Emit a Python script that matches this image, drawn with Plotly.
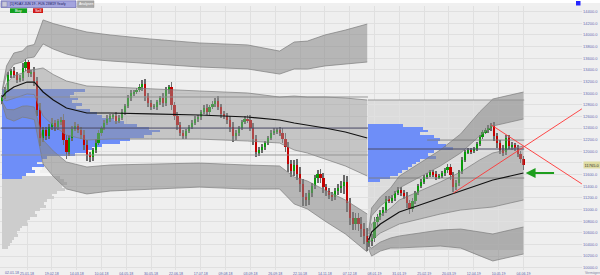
import plotly.graph_objects as go

# ---------------- data ----------------
FIRST_OPEN = 12871

CLOSE_2018 = [12934, 13054, 13312, 13380, 13312, 13226, 13260, 13432, 13535, 13346,
              13363, 13209, 12710, 12229, 12366, 12263, 12418, 12487, 12418, 12521,
              12538, 12194, 11988, 12229, 12384, 12435, 12366, 12280, 12108, 11937,
              11902, 12022, 12143, 12315, 12401, 12487, 12556, 12607, 12607, 12521,
              12573, 12676, 12779, 12917, 13002, 13020, 13054, 13105, 13157, 12951,
              12830, 12762, 12762, 12848, 12917, 12830, 13054, 13105, 12796, 12607,
              12452, 12315, 12263, 12349, 12418, 12487, 12556, 12590, 12676, 12745,
              12676, 12762, 12813, 12865, 12762, 12642, 12607, 12538, 12418, 12263,
              12315, 12401, 12504, 12556, 12538, 12401, 12212, 11988, 12022, 12074,
              12143, 12229, 12315, 12349, 12366, 12315, 12212, 12074, 11782, 11662,
              11765, 11610, 11438, 11214, 11163, 11283, 11404, 11541, 11610, 11541,
              11386, 11318, 11249, 11214, 11318, 11369, 11404, 11472, 11111, 10854,
              10750, 10854, 10750, 10664, 10544, 10441]
CLOSE_2019 = [10458, 10510, 10785, 10871, 10940, 10991, 11180, 11163, 11197, 11283,
              11335, 11283, 11232, 11111, 11008, 11146, 11283, 11404, 11472, 11558,
              11593, 11644, 11610, 11558, 11576, 11627, 11679, 11730, 11593, 11386,
              11455, 11644, 11851, 11988, 12022, 12005, 12040, 12126, 12246, 12332,
              12366, 12401, 12435, 12263, 12143, 12022, 11988, 12229, 12091, 12108,
              12057, 11954, 11868, 11765]

WICK_UP_2018 = [40, 60, 55, 30, 70, 45, 50, 80, 60, 40,
                35, 90, 70, 120, 50, 60, 45, 80, 55, 40,
                60, 100, 90, 50, 45, 70, 35, 60, 80, 90,
                50, 40, 65, 55, 30, 45, 60, 40, 35, 70,
                50, 45, 40, 55, 60, 35, 40, 50, 70, 90,
                60, 45, 55, 40, 35, 80, 50, 40, 90, 60,
                70, 55, 45, 40, 35, 50, 45, 40, 35, 50,
                60, 40, 45, 55, 80, 60, 50, 45, 70, 90,
                55, 40, 35, 45, 60, 80, 90, 70, 50, 45,
                40, 35, 50, 45, 40, 60, 80, 100, 90, 70,
                80, 110, 120, 90, 70, 60, 55, 50, 70, 90,
                80, 60, 55, 50, 45, 70, 90, 120, 110, 90,
                100, 80, 90, 120, 110, 130]
WICK_DN_2018 = [50, 40, 35, 60, 45, 55, 40, 50, 45, 70,
                60, 80, 110, 130, 70, 60, 50, 45, 60, 55,
                70, 90, 120, 60, 50, 40, 55, 70, 90, 110,
                80, 60, 50, 40, 45, 35, 40, 50, 55, 45,
                40, 35, 50, 40, 45, 55, 40, 35, 60, 80,
                70, 55, 40, 45, 50, 60, 45, 70, 80, 75,
                90, 60, 50, 45, 40, 35, 40, 45, 50, 40,
                55, 45, 40, 50, 60, 70, 55, 60, 80, 100,
                60, 45, 40, 35, 50, 60, 100, 90, 60, 50,
                45, 40, 35, 40, 45, 50, 70, 90, 130, 100,
                90, 110, 140, 150, 100, 80, 70, 60, 80, 90,
                100, 80, 70, 60, 55, 70, 80, 140, 150, 120,
                110, 100, 120, 130, 140, 150]
WICK_UP_2019 = [60, 70, 80, 55, 50, 45, 60, 50, 45, 40,
                50, 55, 60, 70, 50, 45, 40, 35, 45, 40,
                35, 30, 40, 45, 35, 40, 30, 45, 55, 60,
                50, 40, 45, 35, 40, 35, 30, 40, 35, 30,
                35, 60, 50, 70, 60, 55, 80, 50, 45, 55,
                40, 50, 60, 45]
WICK_DN_2019 = [90, 80, 70, 60, 55, 50, 45, 55, 50, 45,
                40, 50, 60, 80, 90, 55, 45, 40, 35, 40,
                35, 40, 45, 50, 35, 40, 45, 60, 80, 90,
                55, 45, 40, 35, 40, 45, 35, 30, 40, 35,
                30, 45, 60, 80, 90, 70, 60, 55, 50, 60,
                55, 60, 70, 80]

# trading-day index of each 2-day candle (0 = 02.01.18, 251 = 02.01.19)
DAYS_2018 = list(range(0, 251, 2))
DAYS_2019 = list(range(251, 358, 2))

# yearly VWAP and standard deviation
VWAP18_DAYS = [0, 3, 8, 14, 17, 22, 28, 35, 44, 58, 74, 101, 135, 168, 190, 200, 209, 221, 235, 250]
VWAP18 = [12934, 13020, 13105, 13157, 13191, 13191, 13020, 12882, 12745, 12659,
          12659, 12642, 12624, 12590, 12538, 12487, 12452, 12401, 12332, 12229]
SIGMA18 = [40, 150, 195, 190, 205, 215, 413, 438, 464, 464,
           447, 430, 413, 413, 395, 464, 481, 533, 584, 653]
VWAP19_DAYS = [251, 253, 259, 266, 272, 286, 300, 314, 327, 336, 348, 357]
VWAP19 = [10475, 10613, 10750, 10854, 10957, 11077, 11197, 11318, 11438, 11507, 11576, 11627]
SIGMA19 = [52, 138, 155, 172, 206, 241, 275, 327, 413, 464, 464, 464]

# volume profiles (price bin -> volume)
PROFILE18_PRICE = list(range(13050, 11500, -50))
PROFILE18_VOL = [83, 72, 68, 76, 70, 80, 74, 88, 95, 100, 112, 122, 135, 147, 158, 150,
                 142, 128, 118, 100, 90, 84, 73, 45, 40, 35, 42, 30, 33, 24, 20]
PROFILE19_PRICE = list(range(12450, 11450, -50))
PROFILE19_VOL = [35, 55, 60, 52, 66, 72, 70, 78, 85, 66, 60, 68, 52, 48, 44, 40, 34, 30, 22, 12]
GRAY_PRICE = list(range(11900, 10300, -50))
GRAY_VOL = [30, 33, 28, 35, 40, 38, 50, 58, 62, 65, 60, 63, 55, 50, 52, 45, 42, 44, 38, 33,
            35, 28, 25, 26, 20, 18, 15, 16, 12, 10, 8, 6]
VOL_TO_DAYS = 1 / 1.46

# value areas / levels
VA18 = [11937, 12934]
POC18 = 12400
BOX19 = [10303, 12882]
POC19 = 12040
LEVELS19 = [12194, 11541]
LEVEL19_START = [291, 251]

# trend lines
TREND_A_DAYS = [335, 397]
TREND_A_PRICE = [12452, 11440]
TREND_B_DAYS = [309, 397]
TREND_B_PRICE = [11283, 12730]
ARROW_TAIL_DAY = 379

TICK_DAYS = [17, 34, 51, 68, 85, 102, 119, 136, 153, 170, 187, 204, 221, 238, 255,
             272, 289, 306, 323, 340, 357]
TICK_LABELS = ["25.01.18", "19.02.18", "14.03.18", "10.04.18", "04.05.18", "30.05.18",
               "22.06.18", "17.07.18", "09.08.18", "03.09.18", "26.09.18", "22.10.18",
               "14.11.18", "07.12.18", "08.01.19", "31.01.19", "25.02.19", "20.03.19",
               "12.04.19", "10.05.19", "04.06.19"]
FIRST_LABEL = "02.01.18"
PRICE_TICKS = list(range(10000, 14401, 200))
TITLE = "[1] FDAX JUN 19 - FUS 23M19 Yearly"

# ---------------- layout helpers ----------------
W, H = 600, 275
PL, PR, PT, PB = 0, 582, 6, 270
XR = [-1.5, 397.1]
YR = [9960, 14498]
FONT = "Liberation Sans"


def px(x):
    return (x - PL) / (PR - PL)


def py(y):
    return (PB - y) / (PB - PT)


fig = go.Figure()

# ---------------- bands ----------------
OUTER = "rgba(135,135,135,0.55)"
INNER = "rgba(150,150,150,0.48)"
EDGE = "#7c7c7c"


def add_bands(days, vw, sg):
    def lvl(k):
        return [v + k * s for v, s in zip(vw, sg)]
    for hi, lo, col in [(3, 2, OUTER), (1, -1, INNER), (-2, -3, OUTER)]:
        up, dn = lvl(hi), lvl(lo)
        fig.add_trace(go.Scatter(x=days + days[::-1], y=up + dn[::-1], fill="toself",
                                 fillcolor=col, line=dict(width=0), mode="lines",
                                 hoverinfo="skip"))
    for k in [3, 2, 1, -1, -2, -3]:
        fig.add_trace(go.Scatter(x=days, y=lvl(k), mode="lines",
                                 line=dict(color=EDGE, width=0.7), hoverinfo="skip"))


add_bands(VWAP18_DAYS, VWAP18, SIGMA18)
add_bands(VWAP19_DAYS, VWAP19, SIGMA19)

# ---------------- volume profiles ----------------
fig.add_trace(go.Bar(orientation="h", y=GRAY_PRICE, x=[v * VOL_TO_DAYS for v in GRAY_VOL],
                     base=DAYS_2018[0], width=50,
                     marker=dict(color=["#f6f6f6" if p > 11550 else "#cdcdcd" for p in GRAY_PRICE],
                                 line=dict(width=0)), hoverinfo="skip"))
fig.add_trace(go.Bar(orientation="h", y=PROFILE18_PRICE, x=[v * VOL_TO_DAYS for v in PROFILE18_VOL],
                     base=DAYS_2018[0], width=50,
                     marker=dict(color="#6e8ef8", line=dict(width=0)), hoverinfo="skip"))
fig.add_trace(go.Bar(orientation="h", y=PROFILE19_PRICE, x=[v * VOL_TO_DAYS for v in PROFILE19_VOL],
                     base=DAYS_2019[0] - 0.5, width=50,
                     marker=dict(color="#6e8ef8", line=dict(width=0)), hoverinfo="skip"))

# ---------------- levels ----------------
d18 = [DAYS_2018[0] - 1, DAYS_2018[-1] + 0.5]
d19e = DAYS_2019[-1] + 0.5
for v in VA18:
    fig.add_trace(go.Scatter(x=d18, y=[v, v], mode="lines", line=dict(color="#8e8e8e", width=0.9),
                             hoverinfo="skip"))
fig.add_trace(go.Scatter(x=d18, y=[POC18, POC18], mode="lines", line=dict(color="#4a4a66", width=1),
                         hoverinfo="skip"))
fig.add_trace(go.Scatter(x=[DAYS_2019[0] - 0.5, d19e], y=[BOX19[1], BOX19[1]], mode="lines",
                         line=dict(color="#8e8e8e", width=0.9), hoverinfo="skip"))
fig.add_trace(go.Scatter(x=[DAYS_2019[0] - 0.5, d19e], y=[POC19, POC19], mode="lines",
                         line=dict(color="#4a4a66", width=1), hoverinfo="skip"))
for v, s in zip(LEVELS19, LEVEL19_START):
    fig.add_trace(go.Scatter(x=[s, d19e], y=[v, v], mode="lines", line=dict(color="#7a7a7a", width=0.9),
                             hoverinfo="skip"))

# ---------------- VWAP ----------------
for dd, vv in [(VWAP18_DAYS, VWAP18), (VWAP19_DAYS, VWAP19)]:
    fig.add_trace(go.Scatter(x=dd, y=vv, mode="lines", line=dict(color="#111111", width=1.2),
                             hoverinfo="skip"))

# ---------------- candles ----------------
days = DAYS_2018 + DAYS_2019
closes = CLOSE_2018 + CLOSE_2019
opens = [FIRST_OPEN] + closes[:-1]
wu = WICK_UP_2018 + WICK_UP_2019
wd = WICK_DN_2018 + WICK_DN_2019
highs = [max(o, c) + u for o, c, u in zip(opens, closes, wu)]
lows = [min(o, c) - d for o, c, d in zip(opens, closes, wd)]

fig.add_trace(go.Bar(x=days, y=[h - l for h, l in zip(highs, lows)], base=lows, width=0.6,
                     marker=dict(color="#6a6a6a", line=dict(width=0)), hoverinfo="skip"))
fig.add_trace(go.Bar(x=days, y=[max(abs(c - o), 12) for o, c in zip(opens, closes)],
                     base=[min(o, c) for o, c in zip(opens, closes)], width=1.5,
                     marker=dict(color=["#0a9a0a" if c >= o else "#c40000" for o, c in zip(opens, closes)],
                                 line=dict(width=0)), hoverinfo="skip"))

# ---------------- trend lines ----------------
for dd, pp in [(TREND_A_DAYS, TREND_A_PRICE), (TREND_B_DAYS, TREND_B_PRICE)]:
    fig.add_trace(go.Scatter(x=dd, y=pp, mode="lines", line=dict(color="#ff3434", width=0.9),
                             hoverinfo="skip", cliponaxis=False))

# ---------------- shapes ----------------
shapes = [
    # 2019 period box
    dict(type="rect", xref="x", yref="y", x0=DAYS_2019[0] - 0.5, x1=d19e, y0=BOX19[0], y1=BOX19[1],
         fillcolor="#dcdcdc", line=dict(width=0), layer="below"),
    # header
    dict(type="rect", xref="paper", yref="paper", x0=px(0), x1=px(600), y0=py(3), y1=py(0),
         fillcolor="#ffffff", line=dict(width=0)),
    dict(type="rect", xref="paper", yref="paper", x0=px(1), x1=px(76), y0=py(7.5), y1=py(0.8),
         fillcolor="#a3a4de", line=dict(color="#4848a0", width=0.5)),
    dict(type="rect", xref="paper", yref="paper", x0=px(2), x1=px(7), y0=py(6.8), y1=py(1.6),
         fillcolor="#c8c8d8", line=dict(color="#7070a0", width=0.4)),
    dict(type="rect", xref="paper", yref="paper", x0=px(77.5), x1=px(94), y0=py(7.5), y1=py(0.8),
         fillcolor="#a9a9a9", line=dict(color="#888888", width=0.4)),
    dict(type="rect", xref="paper", yref="paper", x0=px(10), x1=px(27), y0=py(13), y1=py(8.3),
         fillcolor="#12a020", line=dict(width=0)),
    dict(type="rect", xref="paper", yref="paper", x0=px(33), x1=px(43), y0=py(13), y1=py(8.3),
         fillcolor="#d01818", line=dict(width=0)),
    dict(type="rect", xref="paper", yref="paper", x0=px(576), x1=px(580.5), y0=py(5.5), y1=py(1),
         fillcolor="#2626ff", line=dict(width=0)),
]

last_close = closes[-1]
ann = [
    dict(xref="paper", yref="paper", x=px(8), y=py(4.2), xanchor="left", yanchor="middle",
         text=TITLE, showarrow=False, font=dict(size=3.3, color="#14145a", family=FONT)),
    dict(xref="paper", yref="paper", x=px(85.7), y=py(4.2), xanchor="center", yanchor="middle",
         text="Analysen", showarrow=False, font=dict(size=3.5, color="#ffffff", family=FONT)),
    dict(xref="paper", yref="paper", x=px(18.5), y=py(10.7), xanchor="center", yanchor="middle",
         text="Buy", showarrow=False, font=dict(size=3.9, color="#ffffff", family=FONT)),
    dict(xref="paper", yref="paper", x=px(38), y=py(10.7), xanchor="center", yanchor="middle",
         text="Sell", showarrow=False, font=dict(size=3.9, color="#ffffff", family=FONT)),
    dict(xref="paper", yref="paper", x=px(3), y=py(272.6), xanchor="left", yanchor="middle",
         text=FIRST_LABEL, showarrow=False, font=dict(size=3.6, color="#5b5ba8", family=FONT)),
    dict(xref="paper", yref="paper", x=px(583), y=py(272.6), xanchor="left", yanchor="middle",
         text="Vermögen", showarrow=False, font=dict(size=3.3, color="#8080a0", family=FONT)),
    dict(xref="paper", yref="y", x=px(583), y=last_close, xanchor="left", yanchor="middle",
         text=f"{last_close:.1f}", showarrow=False, bgcolor="#dedba2", borderpad=0.6,
         font=dict(size=4, color="#333333", family=FONT)),
    dict(xref="x", yref="y", x=VWAP19_DAYS[-1] + 1.5, y=VWAP19[-1], axref="x", ayref="y",
         ax=ARROW_TAIL_DAY, ay=VWAP19[-1], text="", showarrow=True, arrowhead=2,
         arrowsize=1.1, arrowwidth=1.8, arrowcolor="#1e9e1e"),
]

fig.update_layout(
    width=W, height=H,
    margin=dict(l=PL, r=W - PR, t=PT, b=H - PB, autoexpand=False),
    paper_bgcolor="#f0f0f0", plot_bgcolor="#efefef",
    showlegend=False, barmode="overlay", bargap=0,
    shapes=shapes, annotations=ann,
    font=dict(family=FONT),
    xaxis=dict(range=XR, tickmode="array", tickvals=TICK_DAYS, ticktext=TICK_LABELS,
               showgrid=True, gridcolor="#e0e0e0", gridwidth=1, zeroline=False, showline=False,
               ticks="", tickfont=dict(size=3.6, color="#5b5ba8", family=FONT),
               automargin=False, fixedrange=True),
    yaxis=dict(range=YR, side="right", tickmode="array", tickvals=PRICE_TICKS,
               ticktext=[f"{v:.1f}" if abs(v - last_close) > 60 else "" for v in PRICE_TICKS],
               showgrid=True, gridcolor="#e0e0e0", gridwidth=1, zeroline=False, showline=False,
               ticks="", tickfont=dict(size=4, color="#6a6ab0", family=FONT),
               automargin=False, fixedrange=True),
)

fig.write_html("out.html", config={"displayModeBar": False})
